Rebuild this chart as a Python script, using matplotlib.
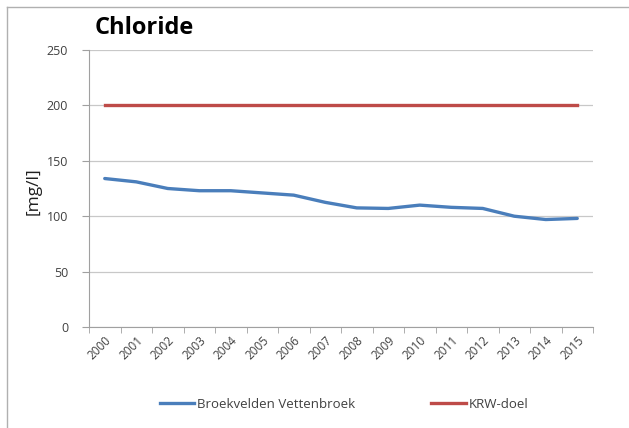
import matplotlib.pyplot as plt
from matplotlib.lines import Line2D

years = [str(y) for y in range(2000, 2016)]
chloride = [134, 131, 125, 123, 123, 121, 119, 112.5, 107.5, 107, 110, 108, 107, 100, 97, 98]
krw_doel = [200] * len(years)

plt.rcParams['font.family'] = ['Open Sans', 'DejaVu Sans']

fig = plt.figure(figsize=(6.29, 4.28), dpi=100)
ax = fig.add_axes([89 / 629, 1 - 327 / 428, 504 / 629, 277 / 428])

x = list(range(len(years)))
ax.plot(x, chloride, color='#4a7ebb', lw=2.4, solid_capstyle='round')
ax.plot(x, krw_doel, color='#be4b48', lw=2.4)

ax.set_xlim(-0.5, len(years) - 0.5)
ax.set_ylim(0, 250)
ax.set_yticks(range(0, 251, 50))
ax.grid(axis='y', color='#c8c8c8', lw=0.9)
ax.set_axisbelow(True)

ax.set_xticks(x)
ax.set_xticklabels(years, rotation=45, ha='right', rotation_mode='anchor',
                   fontsize=8.5, color='#404040')
ax.tick_params(axis='x', length=0, pad=5)
ax.set_xticks([i - 0.5 for i in range(len(years) + 1)], minor=True)
ax.tick_params(axis='x', which='minor', length=4, color='#a0a0a0', direction='out')
ax.tick_params(axis='y', labelsize=9, labelcolor='#404040', length=5,
               color='#a0a0a0', direction='out', pad=10)

for side in ['top', 'right']:
    ax.spines[side].set_visible(False)
for side in ['left', 'bottom']:
    ax.spines[side].set_color('#a0a0a0')

ax.set_ylabel('[mg/l]', fontsize=12.5, color='#202020', va='center')
ax.yaxis.set_label_coords(-0.11, 0.49)
fig.text(95 / 629, 1 - 28 / 428, 'Chloride', fontsize=17, fontweight='bold',
         va='center', ha='left', color='black')

handles = [Line2D([], [], color='#4a7ebb', lw=2.4),
           Line2D([], [], color='#be4b48', lw=2.4)]
fig.legend(handles, ['Broekvelden Vettenbroek', 'KRW-doel'],
           loc='center', bbox_to_anchor=(344 / 629, 1 - 404 / 428), ncol=2,
           frameon=False, fontsize=9.5, handlelength=2.6, handletextpad=0.2,
           columnspacing=5.8, labelcolor='#404040')

# outer chart frame
fig.add_artist(Line2D([7 / 629, 7 / 629], [0, 1 - 7 / 428], color='#b0b0b0', lw=1,
                      transform=fig.transFigure))
fig.add_artist(Line2D([7 / 629, 1], [1 - 7 / 428, 1 - 7 / 428], color='#b0b0b0', lw=1,
                      transform=fig.transFigure))

fig.savefig('out.png', dpi=100)
